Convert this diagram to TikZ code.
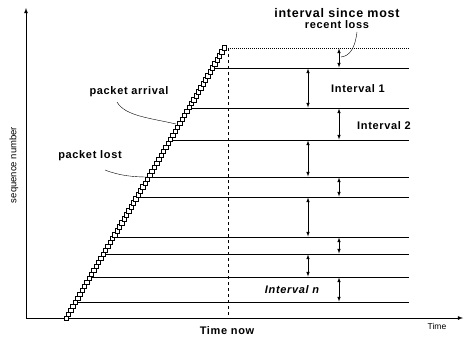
\documentclass[tikz,border=0pt]{standalone}
\usepackage{fontspec}
\setmainfont{Liberation Sans}
\usepackage{tikz}
\usetikzlibrary{arrows,calc}

\begin{document}
\begin{tikzpicture}[x=1pt,y=1pt]
\tikzset{
    axis/.style={thick, ->, >=latex},
    level line/.style={semithick},
    gap arrow/.style={semithick, <->, >=latex, shorten >=0.5pt, shorten <=0.5pt},
    pkt/.style={draw, fill=white, line width=0.6pt},
    label text/.style={font=\fontsize{11}{12}\selectfont\bfseries\addfontfeatures{LetterSpace=6}, inner sep=1pt},
    big label/.style={label text, font=\fontsize{12.5}{13}\selectfont\bfseries\addfontfeatures{LetterSpace=6}},
    pointer/.style={thin}
}
\useasboundingbox (0,0) rectangle (465,338);

% Axes
\coordinate (origin) at (26,20);
\coordinate (ytop)   at (26,330);
\coordinate (xend)   at (463,20);
\draw[axis] (origin) -- (ytop);
\draw[axis] (origin) -- (xend);
\node[rotate=90, font=\fontsize{9.5}{10}\selectfont] (ylab) at (14,173) {sequence number};
\node[font=\fontsize{8.5}{9}\selectfont] (xlab) at (437,12) {Time};

% Packet line
\coordinate (first) at (66,20);
\coordinate (last)  at (224,290);

% Time now
\coordinate (nowtop) at (228,290);
\coordinate (nowbot) at (228,20);
\draw[dashed, semithick] (nowtop) -- (nowbot);
\node[label text] (now) at (227,7) {Time now};

% Top dotted line
\coordinate (top end) at (409,290);
\draw[semithick, dash pattern=on 1pt off 1pt] (nowtop) -- (top end);

% Loss lines
\foreach \y [count=\i] in {270,230,198,161,141,101,84,61,36} {
    \coordinate (s\i) at ({66+(\y-20)*0.5852},\y);
    \coordinate (e\i) at (409,\y);
    \coordinate (a\i) at (308,\y);
    \coordinate (b\i) at (339,\y);
    \draw[level line] (s\i) -- (e\i);
}
\coordinate (b0) at (339,290);

% Packets
\foreach \k in {0,...,68} {
    \draw[pkt] ($(first)!\k/68!(last)$) +(-2.2,-2.2) rectangle +(2.2,2.2);
}

% Intervals
\draw[gap arrow] (b0) -- (b1);
\draw[gap arrow] (a1) -- (a2);
\draw[gap arrow] (b2) -- (b3);
\draw[gap arrow] (a3) -- (a4);
\draw[gap arrow] (b4) -- (b5);
\draw[gap arrow] (a5) -- (a6);
\draw[gap arrow] (b6) -- (b7);
\draw[gap arrow] (a7) -- (a8);
\draw[gap arrow] (b8) -- (b9);

% Labels
\node[big label] (recent) at (337,318) {\begin{tabular}{@{}c@{}}interval since most\\[-2pt]{\fontsize{11}{12}\selectfont recent loss}\end{tabular}};
\node[label text] (int1) at (358,249) {Interval 1};
\node[label text] (int2) at (384,212) {Interval 2};
\node[label text] (intn) at (292,48) {\itshape Interval n};
\node[label text] (arrival) at (129,246) {packet arrival};
\node[label text] (lost) at (90,182) {packet lost};

% Pointers
\draw[pointer] (357,306) .. controls (355,290) and (350,282) .. (341,281);
\draw[pointer] (117,236) .. controls (125,222) and (150,220) .. (176,214);
\draw[pointer] (105,168) .. controls (120,162) and (135,161) .. (148,161);
\end{tikzpicture}
\end{document}
